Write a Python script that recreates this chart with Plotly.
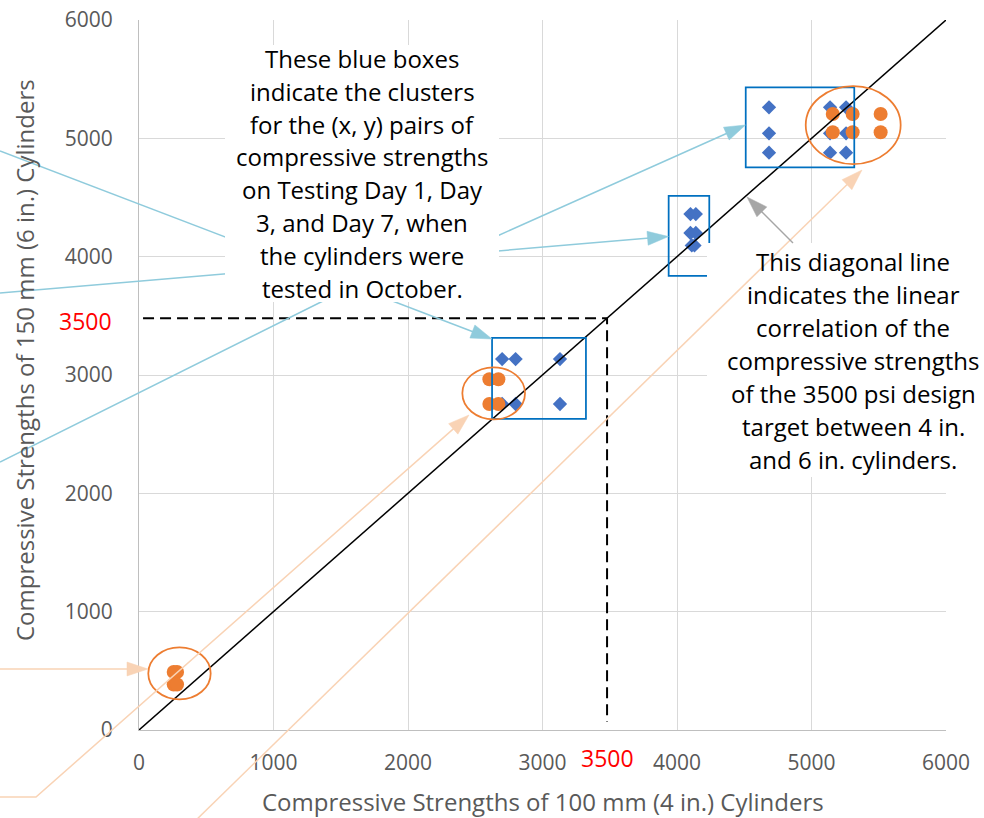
import math
import plotly.graph_objects as go

# ---------------- data ----------------
blue_x = [2700, 2800, 3130, 2700, 2800, 3130,
          4100, 4140, 4100, 4140, 4110, 4130,
          4684, 5138, 5257, 4684, 5138, 5257, 4684, 5138, 5257]
blue_y = [3135, 3135, 3135, 2755, 2755, 2755,
          4360, 4360, 4200, 4200, 4095, 4095,
          5262, 5262, 5262, 5042, 5042, 5042, 4879, 4879, 4879]
orange_x = [258, 283, 258, 283,
            2605, 2672, 2605, 2672,
            5158, 5306, 5514, 5158, 5306, 5514]
orange_y = [490, 490, 385, 385,
            2964, 2964, 2755, 2755,
            5206, 5206, 5206, 5051, 5051, 5051]

diag_x = [0, 6000]
diag_y = [0, 6000]
target_line = 3480
target_label = "3500"

tick_vals = [0, 1000, 2000, 3000, 4000, 5000, 6000]
tick_text = ["0", "1000", "2000", "3000", "4000", "5000", "6000"]

cluster_boxes = [  # x0, x1, y0, y1
    (2625, 3323, 2630, 3313),
    (3938, 4240, 3837, 4513),
    (4511, 5318, 4755, 5431),
]
cluster_ellipses = [
    (69, 533, 259, 698),
    (2404, 2870, 2625, 3065),
    (4957, 5663, 4783, 5442),
]

x_title = "Compressive Strengths of 100 mm (4 in.) Cylinders"
y_title = "Compressive Strengths of 150 mm (6 in.) Cylinders"
note1 = ["These blue boxes", "indicate the clusters", "for the (x, y) pairs of",
         "compressive strengths", "on Testing Day 1, Day", "3, and Day 7, when",
         "the cylinders were", "tested in October."]
note2 = ["This diagonal line", "indicates the linear", "correlation of the",
         "compressive strengths", "of the 3500 psi design", "target between 4 in.",
         "and 6 in. cylinders."]

# ---------------- layout geometry (pixels) ----------------
W, H = 984, 818
L, R, T, B = 139, 946, 20, 730
FONT = "Open Sans"


def px(x):
    return (x - L) / (R - L)


def py(y):
    return (B - y) / (B - T)


def path_str(pts, close=False):
    s = " ".join(("M" if i == 0 else "L") + f" {px(x):.5f},{py(y):.5f}" for i, (x, y) in enumerate(pts))
    return s + (" Z" if close else "")


shapes = []


def arrow(points, color, width=1.5, hl=21, hw=14):
    (x0, y0), (x1, y1) = points[-2], points[-1]
    d = math.hypot(x1 - x0, y1 - y0)
    ux, uy = (x1 - x0) / d, (y1 - y0) / d
    bx, by = x1 - ux * hl, y1 - uy * hl
    nx, ny = -uy, ux
    line_pts = list(points[:-1]) + [(bx + ux * 2, by + uy * 2)]
    shapes.append(dict(type="path", xref="paper", yref="paper", layer="above",
                       path=path_str(line_pts), line=dict(color=color, width=width),
                       fillcolor="rgba(0,0,0,0)"))
    head = [(x1, y1), (bx + nx * hw / 2, by + ny * hw / 2), (bx - nx * hw / 2, by - ny * hw / 2)]
    shapes.append(dict(type="path", xref="paper", yref="paper", layer="above",
                       path=path_str(head, close=True), line=dict(color=color, width=0.5),
                       fillcolor=color))


fig = go.Figure()

fig.add_trace(go.Scatter(x=blue_x, y=blue_y, mode="markers",
                         marker=dict(symbol="diamond", size=11, color="#4472C4"),
                         showlegend=False, hoverinfo="skip"))
fig.add_trace(go.Scatter(x=orange_x, y=orange_y, mode="markers",
                         marker=dict(symbol="circle", size=14, color="#ED7D31"),
                         showlegend=False, hoverinfo="skip"))
fig.add_trace(go.Scatter(x=diag_x, y=diag_y, mode="lines",
                         line=dict(color="black", width=1.5),
                         showlegend=False, hoverinfo="skip"))
fig.add_trace(go.Scatter(x=[30, target_line, target_line], y=[target_line, target_line, 70],
                         mode="lines", line=dict(color="black", width=2, dash="11px,6px"),
                         showlegend=False, hoverinfo="skip"))

for (x0, x1, y0, y1) in cluster_boxes:
    shapes.append(dict(type="rect", xref="x", yref="y", x0=x0, x1=x1, y0=y0, y1=y1,
                       line=dict(color="#0070C0", width=1.75), layer="above"))
for (x0, x1, y0, y1) in cluster_ellipses:
    shapes.append(dict(type="circle", xref="x", yref="y", x0=x0, x1=x1, y0=y0, y1=y1,
                       line=dict(color="#ED7D31", width=1.75), layer="above"))

TEAL = "#8FCBDC"
PEACH = "#F9D3B5"
arrow([(0, 151), (492, 339)], TEAL)
arrow([(0, 293), (668.5, 236.5)], TEAL)
arrow([(0, 462), (325, 300), (495, 237), (745.5, 125)], TEAL)

# white text boxes
shapes.append(dict(type="rect", xref="paper", yref="paper", layer="above",
                   x0=px(225), x1=px(499), y0=py(302), y1=py(45),
                   fillcolor="white", line=dict(width=0)))
shapes.append(dict(type="rect", xref="paper", yref="paper", layer="above",
                   x0=px(707), x1=px(1000), y0=py(477), y1=py(243),
                   fillcolor="white", line=dict(width=0)))

arrow([(0, 669), (148, 669)], PEACH)
arrow([(0, 797), (36, 797), (469, 415)], PEACH)
arrow([(190, 826), (862, 170)], PEACH)
arrow([(793, 243), (747, 197)], "#A6A6A6")

annotations = []
ys1 = [58.3, 91.2, 124.1, 157.0, 189.9, 222.8, 255.7, 288.6]
for t, y in zip(note1, ys1):
    annotations.append(dict(text=t, x=px(362), y=py(y), xref="paper", yref="paper",
                            xanchor="center", yanchor="middle", showarrow=False,
                            font=dict(family=FONT, size=24, color="black")))
ys2 = [261.7, 294.6, 327.5, 360.4, 393.3, 426.2, 459.1]
for t, y in zip(note2, ys2):
    annotations.append(dict(text=t, x=px(853), y=py(y), xref="paper", yref="paper",
                            xanchor="center", yanchor="middle", showarrow=False,
                            font=dict(family=FONT, size=24, color="black")))

annotations.append(dict(text=target_label, x=px(114), y=py(321), xref="paper", yref="paper",
                        xanchor="right", yanchor="middle", showarrow=False,
                        font=dict(family=FONT, size=23, color="#FF0000")))
annotations.append(dict(text=target_label, x=px(607), y=py(758), xref="paper", yref="paper",
                        xanchor="center", yanchor="middle", showarrow=False,
                        font=dict(family=FONT, size=23, color="#FF0000")))
annotations.append(dict(text=x_title, x=px(543), y=py(801), xref="paper", yref="paper",
                        xanchor="center", yanchor="middle", showarrow=False,
                        font=dict(family=FONT, size=24, color="#595959")))
annotations.append(dict(text=y_title, x=px(24), y=py(360), xref="paper", yref="paper",
                        xanchor="center", yanchor="middle", showarrow=False, textangle=-90,
                        font=dict(family=FONT, size=24, color="#595959")))

axis_common = dict(range=[0, 6000], tickvals=tick_vals, ticktext=tick_text,
                   showgrid=True, gridcolor="#D9D9D9", gridwidth=1,
                   showline=True, linecolor="#BFBFBF", linewidth=1.25,
                   zeroline=False, ticks="", automargin=False,
                   tickfont=dict(family=FONT, size=21, color="#595959"))

fig.update_layout(
    width=W, height=H,
    margin=dict(l=L, r=W - R, t=T, b=H - B, autoexpand=False),
    paper_bgcolor="white", plot_bgcolor="white",
    xaxis=dict(**axis_common, ticklabelstandoff=14),
    yaxis=dict(**axis_common, ticklabelstandoff=21),
    shapes=shapes, annotations=annotations,
    showlegend=False,
)

fig.write_html("out.html")
